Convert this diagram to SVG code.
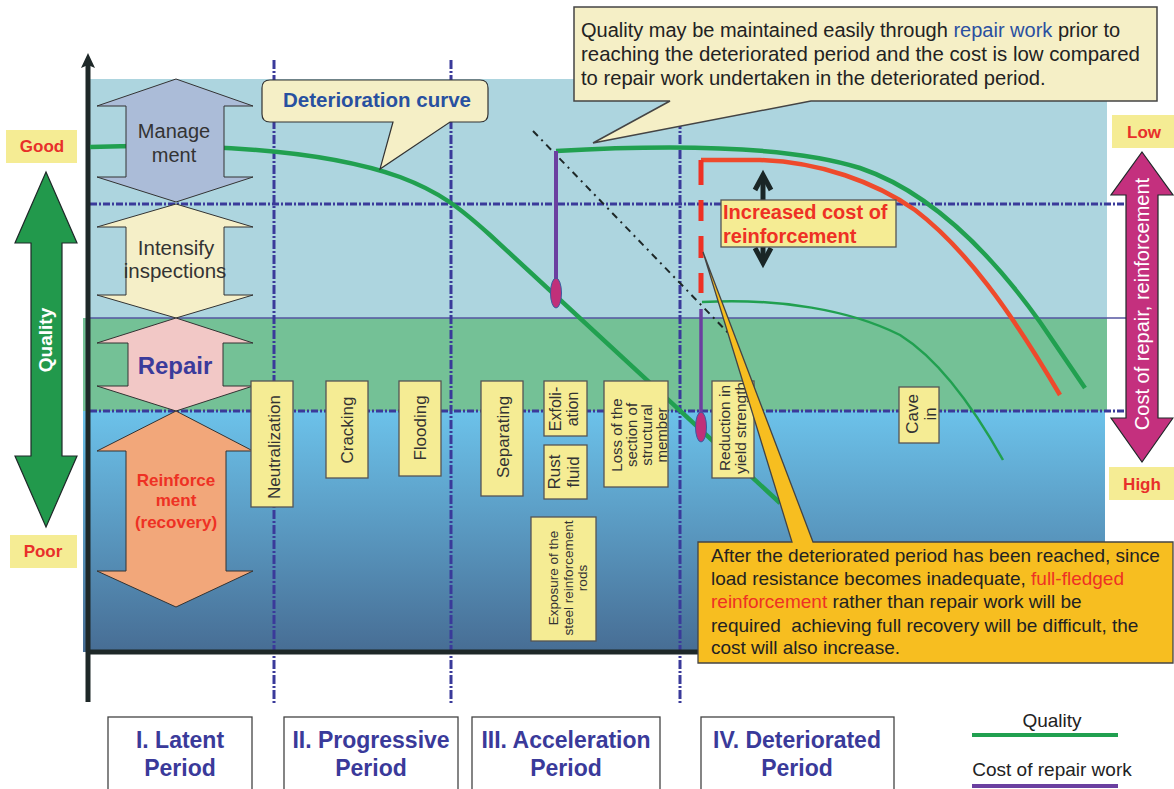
<svg xmlns="http://www.w3.org/2000/svg" width="1174" height="789" viewBox="0 0 1174 789">
<defs>
<linearGradient id="gBlue" x1="0" y1="0" x2="0" y2="1">
<stop offset="0" stop-color="#6cc2ea"/>
<stop offset="0.45" stop-color="#5b9cc4"/>
<stop offset="1" stop-color="#476d94"/>
</linearGradient>
<style>
.t{font-family:"Liberation Sans",Arial,sans-serif}
.lbl{fill:#f5ec94;stroke:#555;stroke-width:1.3}
.lt{font-family:"Liberation Sans",Arial,sans-serif;fill:#333;text-anchor:middle}
.dash{stroke:#3a3a9a;stroke-width:3.2;stroke-dasharray:7 2 2 2;fill:none}
.vdiv{stroke:#3a3a9a;stroke-width:3;stroke-dasharray:9 2 2 2;fill:none}
.red{fill:#ee3124}
.per{fill:#fff;stroke:#444;stroke-width:1.3}
.pt{font-family:"Liberation Sans",Arial,sans-serif;font-weight:bold;font-size:23px;fill:#3a3a9a;text-anchor:middle}
.ylw{fill:#f5ec94}
.yt{font-family:"Liberation Sans",Arial,sans-serif;font-weight:bold;font-size:17px;fill:#e8302a;text-anchor:middle}
</style>
</defs>
<rect width="1174" height="789" fill="#ffffff"/>

<g id="background">
<rect x="90" y="79" width="1017" height="239" fill="#add5df"/>
<rect x="83" y="318" width="1024" height="93" fill="#74c196"/>
<rect x="83" y="411" width="1022" height="241" fill="url(#gBlue)"/>
<line x1="90" y1="318" x2="1126" y2="318" stroke="#5555a0" stroke-width="1.5"/>
<line x1="90" y1="204" x2="1126" y2="204" class="dash"/>
<line x1="90" y1="411" x2="1126" y2="411" class="dash"/>
<line x1="274" y1="60" x2="274" y2="705" class="vdiv"/>
<line x1="451" y1="60" x2="451" y2="705" class="vdiv"/>
<line x1="680" y1="60" x2="680" y2="705" class="vdiv"/>
</g>

<g id="axes">
<line x1="86" y1="652" x2="1000" y2="652" stroke="#1e2828" stroke-width="5"/>
<line x1="88" y1="702" x2="88" y2="62" stroke="#1e2828" stroke-width="5"/>
<path d="M88,53 L95,68 L88,65 L81,68 Z" fill="#1e2828"/>
</g>

<g id="curves" fill="none">
<path d="M90,147 C220,143 330,152 400,177 C440,192 460,208 490,235 L780,503" stroke="#21a050" stroke-width="4.5"/>
<path d="M556,151 C680,144 790,146 860,168 C925,190 985,245 1040,322 L1085,388" stroke="#21a050" stroke-width="4.5"/>
<path d="M702,302 C780,298 850,310 900,335 C940,360 975,410 1003,460" stroke="#21a050" stroke-width="2.5"/>
<path d="M701,160 L760,160 C820,162 875,182 915,210 C965,248 1010,310 1060,395" stroke="#ee4a2c" stroke-width="4.5"/>
<path d="M701,160 L701,293" stroke="#ee3124" stroke-width="5" stroke-dasharray="25 15 21 15 22 15 21"/>
<path d="M533,131 L735,340" stroke="#1e2828" stroke-width="2" stroke-dasharray="7 5 2 5"/>
<line x1="556" y1="151" x2="556" y2="282" stroke="#6b3fa0" stroke-width="4"/>
<line x1="701" y1="309" x2="701" y2="415" stroke="#6b3fa0" stroke-width="3.5"/>
<ellipse cx="556" cy="293" rx="5.5" ry="15" fill="#c0307a" stroke="#3a5aa0" stroke-width="1"/>
<ellipse cx="701" cy="427" rx="5.5" ry="15" fill="#c0307a" stroke="#3a5aa0" stroke-width="1"/>
</g>

<g id="quality-arrow">
<path d="M46,172 L77,243 L62,243 L62,456 L77,456 L46,527 L15,456 L31,456 L31,243 L15,243 Z" fill="#22994c" stroke="#1e2828" stroke-width="1.2"/>
<text class="t" transform="translate(52,340) rotate(-90)" text-anchor="middle" font-size="19" font-weight="bold" fill="#ffffff">Quality</text>
</g>
<g id="good"><rect x="6" y="130" width="71" height="33" class="ylw"/><text class="yt" x="42" y="152">Good</text></g>
<g id="poor"><rect x="10" y="535" width="67" height="33" class="ylw"/><text class="yt" x="43" y="557">Poor</text></g>

<g id="management">
<path d="M176,79 L253,106 L224,106 L224,177 L253,177 L176,202 L97,177 L126,177 L126,106 L97,106 Z" fill="#abbcd8" stroke="#333" stroke-width="1"/>
<text class="lt" x="174" y="138" font-size="20">Manage</text>
<text class="lt" x="174" y="162" font-size="20">ment</text>
</g>
<g id="intensify">
<path d="M176,204 L253,227 L224,227 L224,295 L253,295 L176,318 L97,295 L126,295 L126,227 L97,227 Z" fill="#f5efc8" stroke="#333" stroke-width="1"/>
<text class="lt" x="176" y="255" font-size="20.5">Intensify</text>
<text class="lt" x="175" y="278" font-size="20.5">inspections</text>
</g>
<g id="repair">
<path d="M176,318 L253,343 L223,343 L223,386 L253,386 L176,411 L97,386 L128,386 L128,343 L97,343 Z" fill="#f2c8c6" stroke="#333" stroke-width="1"/>
<text class="t" x="175" y="374" font-size="24" font-weight="bold" fill="#3b3b9b" text-anchor="middle">Repair</text>
</g>
<g id="reinforcement">
<path d="M176,411 L253,451 L226,451 L226,571 L253,571 L176,607 L97,571 L126,571 L126,451 L97,451 Z" fill="#f2a77a" stroke="#333" stroke-width="1"/>
<text class="t" x="176" y="486" font-size="17" font-weight="bold" fill="#ee3124" text-anchor="middle">Reinforce</text>
<text class="t" x="176" y="506" font-size="17" font-weight="bold" fill="#ee3124" text-anchor="middle">ment</text>
<text class="t" x="176" y="528" font-size="17" font-weight="bold" fill="#ee3124" text-anchor="middle">(recovery)</text>
</g>

<g id="neutralization"><rect x="251" y="381" width="42" height="126" class="lbl"/><text class="lt" font-size="17" transform="translate(280,447) rotate(-90)">Neutralization</text></g>
<g id="cracking"><rect x="326" y="381" width="42" height="97" class="lbl"/><text class="lt" font-size="17" transform="translate(353,430) rotate(-90)">Cracking</text></g>
<g id="flooding"><rect x="399" y="381" width="42" height="95" class="lbl"/><text class="lt" font-size="17" transform="translate(426,428) rotate(-90)">Flooding</text></g>
<g id="separating"><rect x="481" y="381" width="42" height="115" class="lbl"/><text class="lt" font-size="17" transform="translate(509,437) rotate(-90)">Separating</text></g>
<g id="exfoliation"><rect x="544" y="381" width="43" height="55" class="lbl"/><text class="lt" font-size="16" transform="translate(561,409) rotate(-90)"><tspan x="0" y="0">Exfoli-</tspan><tspan x="0" y="17">ation</tspan></text></g>
<g id="rust-fluid"><rect x="544" y="445" width="43" height="54" class="lbl"/><text class="lt" font-size="17" transform="translate(560,472) rotate(-90)"><tspan x="0" y="0">Rust</tspan><tspan x="0" y="19">fluid</tspan></text></g>
<g id="loss-section"><rect x="604" y="381" width="64" height="106" class="lbl"/><text class="lt" font-size="15" transform="translate(622,435) rotate(-90)"><tspan x="0" y="0">Loss of the</tspan><tspan x="0" y="15">section of</tspan><tspan x="0" y="30">structural</tspan><tspan x="0" y="45">member</tspan></text></g>
<g id="exposure"><rect x="531" y="517" width="65" height="124" class="lbl"/><text class="lt" font-size="13.5" transform="translate(558,578) rotate(-90)"><tspan x="0" y="0">Exposure of the</tspan><tspan x="0" y="14.5">steel reinforcement</tspan><tspan x="0" y="29">rods</tspan></text></g>
<g id="reduction"><rect x="712" y="381" width="42" height="97" class="lbl"/><text class="lt" font-size="15.5" transform="translate(730,428) rotate(-90)"><tspan x="0" y="0">Reduction in</tspan><tspan x="0" y="16">yield strength</tspan></text></g>
<g id="cave-in"><rect x="899" y="387" width="40" height="56" class="lbl"/><text class="lt" font-size="17" transform="translate(918,414) rotate(-90)"><tspan x="0" y="0">Cave</tspan><tspan x="0" y="18">in</tspan></text></g>

<g id="increase-arrow" stroke="#1a2626" stroke-width="5" fill="none">
<line x1="763" y1="176" x2="763" y2="262"/>
<polyline points="755,190 763,175 771,190"/>
<polyline points="755,248 763,263 771,248"/>
</g>
<g id="increased-cost">
<rect x="721" y="200" width="175" height="47" class="lbl"/>
<text class="t" x="723" y="219" font-size="20" font-weight="bold" fill="#ee3124">Increased cost of</text>
<text class="t" x="723" y="243" font-size="20" font-weight="bold" fill="#ee3124">reinforcement</text>
</g>

<g id="deterioration-callout">
<path d="M270,80 L480,80 Q488,80 488,88 L488,114 Q488,122 480,122 L450,122 L380,169 L393,122 L270,122 Q262,122 262,114 L262,88 Q262,80 270,80 Z" fill="#f5efc6" stroke="#333" stroke-width="1.2"/>
<text class="t" x="377" y="107" font-size="20.5" font-weight="bold" fill="#2850a0" text-anchor="middle">Deterioration curve</text>
</g>

<g id="top-callout">
<path d="M574,7 L1157,7 L1157,101 L811,101 L593,143 L670,101 L574,101 Z" fill="#f5efc6" stroke="#444" stroke-width="1.5"/>
<text class="t" x="581" y="37" font-size="20" fill="#222">Quality may be maintained easily through <tspan fill="#2a4fa0">repair work</tspan> prior to</text>
<text class="t" x="581" y="61" font-size="20.4" fill="#222">reaching the deteriorated period and the cost is low compared</text>
<text class="t" x="581" y="85" font-size="20.2" fill="#222">to repair work undertaken in the deteriorated period.</text>
</g>

<g id="bottom-callout">
<path d="M698,542 L792,542 L703,252 L813,542 L1173,542 L1173,663 L698,663 Z" fill="#f7be20" stroke="#444" stroke-width="1.3"/>
<text class="t" x="711" y="562" font-size="19" fill="#222">After the deteriorated period has been reached, since</text>
<text class="t" x="711" y="585" font-size="19" fill="#222">load resistance becomes inadequate, <tspan fill="#ee3124">full-fledged</tspan></text>
<text class="t" x="711" y="608" font-size="19" fill="#222"><tspan fill="#ee3124">reinforcement</tspan> rather than repair work will be</text>
<text class="t" x="711" y="632" font-size="19" fill="#222" xml:space="preserve">required  achieving full recovery will be difficult, the</text>
<text class="t" x="711" y="654" font-size="19" fill="#222">cost will also increase.</text>
</g>

<g id="cost-axis">
<path d="M1142,152 L1173,195 L1158,195 L1158,418 L1173,418 L1142,462 L1111,418 L1126,418 L1126,195 L1111,195 Z" fill="#c4307e" stroke="#1e2828" stroke-width="1.2"/>
<text class="t" transform="translate(1149,304) rotate(-90)" text-anchor="middle" font-size="20" fill="#ffffff">Cost of repair, reinforcement</text>
</g>
<g id="low"><rect x="1112" y="115" width="62" height="33" class="ylw"/><text class="yt" x="1144" y="138">Low</text></g>
<g id="high"><rect x="1109" y="467" width="65" height="33" class="ylw"/><text class="yt" x="1142" y="490">High</text></g>

<g id="period-1"><rect x="108" y="717" width="144" height="80" class="per"/><text class="pt" x="180" y="748">I. Latent</text><text class="pt" x="180" y="776">Period</text></g>
<g id="period-2"><rect x="284" y="717" width="174" height="80" class="per"/><text class="pt" x="371" y="748">II. Progressive</text><text class="pt" x="371" y="776">Period</text></g>
<g id="period-3"><rect x="472" y="717" width="188" height="80" class="per"/><text class="pt" x="566" y="748">III. Acceleration</text><text class="pt" x="566" y="776">Period</text></g>
<g id="period-4"><rect x="701" y="717" width="193" height="80" class="per"/><text class="pt" x="797" y="748">IV. Deteriorated</text><text class="pt" x="797" y="776">Period</text></g>

<g id="legend">
<text class="t" x="1052" y="727" font-size="19" fill="#222" text-anchor="middle">Quality</text>
<line x1="972" y1="735" x2="1118" y2="735" stroke="#21a050" stroke-width="4"/>
<text class="t" x="1052" y="776" font-size="19" fill="#222" text-anchor="middle">Cost of repair work</text>
<line x1="972" y1="786" x2="1118" y2="786" stroke="#6b3fa0" stroke-width="4"/>
</g>
</svg>
